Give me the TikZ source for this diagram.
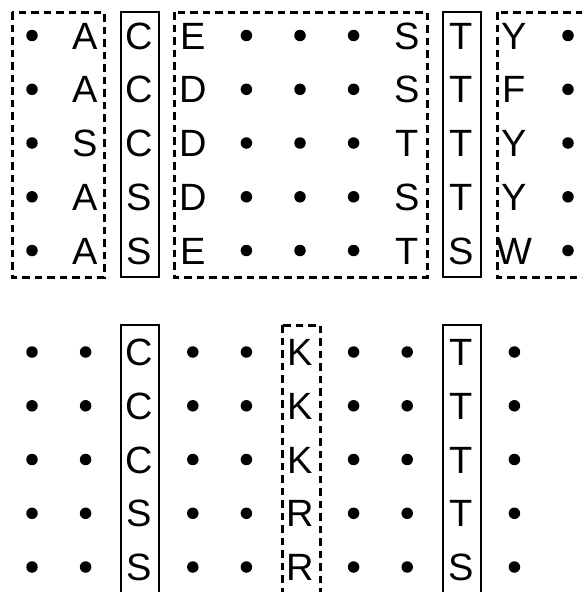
\documentclass[tikz,border=0pt]{standalone}
\usepackage{fontspec}
\setmainfont{Liberation Sans}
\begin{document}
\begin{tikzpicture}[x=1pt,y=-1pt,
  dotmark/.style={circle,fill=black,inner sep=0pt,minimum size=11.5pt},
  letter/.style={inner sep=0pt,anchor=base,font=\fontsize{38}{38}\selectfont},
  solidbox/.style={draw=black,line width=2.6pt},
  dashbox/.style={draw=black,line width=3pt,dash pattern=on 7.5pt off 5pt}]
\useasboundingbox (0,0) rectangle (582,592);
\clip (0,0) rectangle (582,592);
\def\colx#1{32+53.6*#1}
% top block
\foreach \r [count=\i from 0] in {35.5,89.3,143,196.8,250.5}{
  \foreach \c in {0,4,5,6,10}{
    \node[dotmark] (td\c-\i) at ({\colx{\c}},\r) {};
  }
}
\foreach \c/\letters in {1/{A,A,S,A,A},2/{C,C,C,S,S},3/{E,D,D,D,E},7/{S,S,T,S,T},8/{T,T,T,T,S},9/{Y,F,Y,Y,W}}{
  \foreach \l [count=\i from 0] in \letters {
    \pgfmathsetmacro{\ry}{35.5+53.75*\i+13.6}
    \node[letter] (tl\c-\i) at ({\colx{\c}},\ry) {\l};
  }
}
% bottom block
\foreach \r [count=\i from 0] in {352,405.8,459.5,513.3,567}{
  \foreach \c in {0,1,3,4,6,7,9}{
    \node[dotmark] (bd\c-\i) at ({\colx{\c}},\r) {};
  }
}
\foreach \c/\letters in {2/{C,C,C,S,S},5/{K,K,K,R,R},8/{T,T,T,T,S}}{
  \foreach \l [count=\i from 0] in \letters {
    \pgfmathsetmacro{\ry}{352+53.75*\i+13.6}
    \node[letter] (bl\c-\i) at ({\colx{\c}},\ry) {\l};
  }
}
% top boxes
\draw[dashbox] (12,12) rectangle (104,277);
\draw[solidbox] (121,12) rectangle (159,277);
\draw[dashbox] (174,12) rectangle (427,277);
\draw[solidbox] (443,12) rectangle (481,277);
\draw[dashbox] (497,12) rectangle (600,277);
% bottom boxes
\draw[solidbox] (121,325) rectangle (159,610);
\draw[dashbox] (282,325) rectangle (320,610);
\draw[solidbox] (443,325) rectangle (481,610);
\end{tikzpicture}
\end{document}
